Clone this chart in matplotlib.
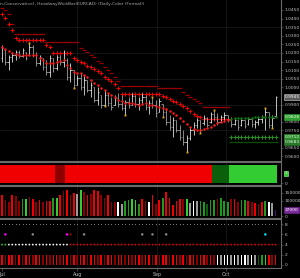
import matplotlib
matplotlib.use("Agg")
import matplotlib.pyplot as plt
import matplotlib.transforms as mtransforms

# ---------------- data ----------------
high = [1.0247, 1.0218, 1.0189, 1.0206, 1.0218, 1.0218, 1.0229, 1.0206, 1.0258, 1.0247,
        1.0206, 1.0189, 1.0171, 1.0160, 1.0189, 1.0171, 1.0189, 1.0189, 1.0218, 1.0171,
        1.0142, 1.0101, 1.0072, 1.0084, 1.0072, 1.0043, 1.0032, 1.0003, 1.0003, 0.9956,
        0.9985, 0.9968, 0.9945, 0.9956, 0.9968, 0.9956, 0.9927, 0.9945, 0.9968, 0.9956,
        0.9945, 0.9968, 0.9956, 0.9927, 0.9945, 0.9927, 0.9939, 0.9904, 0.9881, 0.9840,
        0.9828, 0.9811, 0.9782, 0.9753, 0.9724, 0.9764, 0.9799, 0.9822, 0.9811, 0.9840,
        0.9828, 0.9857, 0.9869, 0.9852, 0.9840, 0.9857, 0.9840, 0.9828, 0.9822, 0.9811,
        0.9822, 0.9811, 0.9828, 0.9822, 0.9811, 0.9828, 0.9840, 0.9881, 0.9857, 0.9840,
        0.9950]
low = [1.0148, 1.0130, 1.0101, 1.0148, 1.0160, 1.0171, 1.0177, 1.0160, 1.0189, 1.0177,
       1.0125, 1.0130, 1.0101, 1.0072, 1.0061, 1.0090, 1.0101, 1.0130, 1.0119, 1.0043,
       1.0032, 0.9997, 1.0014, 0.9985, 0.9956, 0.9974, 0.9945, 0.9915, 0.9898, 0.9881,
       0.9892, 0.9892, 0.9869, 0.9898, 0.9886, 0.9869, 0.9840, 0.9881, 0.9898, 0.9886,
       0.9869, 0.9904, 0.9869, 0.9846, 0.9881, 0.9828, 0.9857, 0.9828, 0.9782, 0.9753,
       0.9712, 0.9741, 0.9695, 0.9666, 0.9625, 0.9695, 0.9724, 0.9764, 0.9735, 0.9782,
       0.9770, 0.9793, 0.9811, 0.9782, 0.9799, 0.9811, 0.9799, 0.9770, 0.9782, 0.9753,
       0.9776, 0.9764, 0.9782, 0.9770, 0.9764, 0.9782, 0.9793, 0.9753, 0.9764, 0.9764,
       0.9828]
opens = [1.0171, 1.0218, 1.0148, 1.0177, 1.0189, 1.0206, 1.0183, 1.0206, 1.0189, 1.0235,
         1.0189, 1.0142, 1.0171, 1.0119, 1.0090, 1.0171, 1.0113, 1.0177, 1.0148, 1.0160,
         1.0061, 1.0101, 1.0014, 1.0055, 1.0003, 1.0043, 0.9985, 1.0003, 0.9927, 0.9956,
         0.9898, 0.9956, 0.9910, 0.9898, 0.9939, 0.9904, 0.9881, 0.9915, 0.9898, 0.9950,
         0.9904, 0.9927, 0.9945, 0.9886, 0.9910, 0.9898, 0.9857, 0.9904, 0.9857, 0.9799,
         0.9770, 0.9811, 0.9753, 0.9712, 0.9683, 0.9706, 0.9753, 0.9782, 0.9811, 0.9793,
         0.9822, 0.9799, 0.9846, 0.9828, 0.9799, 0.9828, 0.9840, 0.9811, 0.9788, 0.9811,
         0.9782, 0.9811, 0.9788, 0.9817, 0.9788, 0.9799, 0.9817, 0.9828, 0.9857, 0.9782,
         0.9834]
closes = [1.0229, 1.0148, 1.0177, 1.0189, 1.0206, 1.0183, 1.0218, 1.0171, 1.0235, 1.0189,
          1.0142, 1.0177, 1.0119, 1.0090, 1.0171, 1.0113, 1.0177, 1.0148, 1.0160, 1.0061,
          1.0101, 1.0014, 1.0055, 1.0003, 1.0043, 0.9985, 1.0014, 0.9927, 0.9974, 0.9898,
          0.9956, 0.9910, 0.9886, 0.9939, 0.9904, 0.9881, 0.9915, 0.9898, 0.9950, 0.9904,
          0.9927, 0.9945, 0.9886, 0.9910, 0.9898, 0.9852, 0.9921, 0.9857, 0.9799, 0.9770,
          0.9811, 0.9753, 0.9712, 0.9683, 0.9706, 0.9753, 0.9782, 0.9811, 0.9753, 0.9822,
          0.9782, 0.9846, 0.9828, 0.9799, 0.9828, 0.9840, 0.9811, 0.9788, 0.9811, 0.9770,
          0.9811, 0.9776, 0.9817, 0.9788, 0.9799, 0.9817, 0.9828, 0.9857, 0.9782, 0.9822,
          0.9945]
wick_idx = [8, 21, 30, 36, 44, 47, 54, 58, 62, 77, 79]
wick_val = [1.0258, 0.9997, 0.9892, 0.9840, 0.9945, 0.9828, 0.9625, 0.9735, 0.9869, 0.9881, 0.9764]

# moving-average dots: red while falling (bars 0-66), green afterwards (67-80)
ma_red = [1.0235, 1.0223, 1.0212, 1.0200, 1.0194, 1.0189, 1.0189, 1.0189, 1.0189, 1.0189,
          1.0189, 1.0171, 1.0160, 1.0142, 1.0142, 1.0142, 1.0148, 1.0154, 1.0160, 1.0130,
          1.0113, 1.0090, 1.0084, 1.0084, 1.0072, 1.0061, 1.0043, 1.0026, 1.0014, 0.9997,
          0.9985, 0.9968, 0.9956, 0.9945, 0.9927, 0.9921, 0.9910, 0.9910, 0.9910, 0.9904,
          0.9898, 0.9904, 0.9910, 0.9898, 0.9898, 0.9892, 0.9886, 0.9881, 0.9875, 0.9863,
          0.9852, 0.9840, 0.9822, 0.9805, 0.9788, 0.9770, 0.9759, 0.9753, 0.9753, 0.9759,
          0.9764, 0.9770, 0.9782, 0.9793, 0.9799, 0.9805, 0.9811]
ma_green = [0.9817, 0.9822, 0.9822, 0.9822, 0.9822, 0.9822, 0.9822, 0.9828, 0.9828, 0.9828,
            0.9828, 0.9828, 0.9828, 0.9828]
stop_red = [1.0427, 1.0404, 1.0369, 1.0334, 1.0287, 1.0276, 1.0276, 1.0276, 1.0276, 1.0276,
            1.0276, 1.0276, 1.0276, 1.0247, 1.0235, 1.0200, 1.0200, 1.0200, 1.0200, 1.0200,
            1.0200, 1.0171, 1.0160, 1.0148, 1.0142, 1.0125, 1.0119, 1.0107, 1.0096, 1.0084,
            1.0061, 1.0049, 1.0037, 1.0020, 0.9997, 0.9962, 0.9962, 0.9962, 0.9962, 0.9962,
            0.9962, 0.9962, 0.9962, 0.9962, 0.9962, 0.9962, 0.9962, 0.9950, 0.9945, 0.9933,
            0.9921, 0.9915, 0.9904, 0.9892, 0.9881, 0.9863, 0.9846, 0.9834, 0.9828, 0.9817,
            0.9817, 0.9817, 0.9817, 0.9817, 0.9817, 0.9817, 0.9817]
band_red = [1.0462, 1.0450, 1.0427, 1.0369, 1.0311, 1.0311, 1.0311, 1.0311, 1.0311, 1.0311,
            1.0311, 1.0311, 1.0311, 1.0264, 1.0264, 1.0264, 1.0264, 1.0264, 1.0264, 1.0264,
            1.0264, 1.0264, 1.0264, 1.0229, 1.0218, 1.0206, 1.0189, 1.0177, 1.0154, 1.0142,
            1.0119, 1.0101, 1.0084, 1.0061, 1.0037, 1.0008, 1.0008, 1.0008, 1.0008, 1.0008,
            1.0008, 1.0008, 1.0008, 1.0008, 1.0008, 1.0008, 0.9997, 0.9997, 0.9997, 0.9997,
            0.9997, 0.9997, 0.9997, 0.9974, 0.9956, 0.9945, 0.9933, 0.9921, 0.9910, 0.9886,
            0.9886, 0.9886, 0.9886, 0.9886, 0.9886, 0.9886, 0.9886]
stop_green = [0.9712] * 14
band_green = [0.9683] * 14

# state strip (panel 2): R red, D dark red, K dark green, B bright green
state = "R" * 16 + "D" * 3 + "R" * 43 + "K" * 5 + "B" * 14

# volume histogram (panel 3)
volume = [135000, 102000, 91000, 135000, 128000, 98000, 109000, 113000, 124000, 113000,
          91000, 106000, 91000, 98000, 98000, 119000, 119000, 135000, 161000, 168000,
          135000, 150000, 145000, 168000, 157000, 135000, 145000, 168000, 163000, 135000,
          119000, 135000, 91000, 91000, 91000, 76000, 98000, 106000, 113000, 102000,
          76000, 109000, 96000, 91000, 135000, 80000, 102000, 119000, 157000, 119000,
          70000, 98000, 113000, 113000, 109000, 85000, 96000, 96000, 98000, 91000,
          76000, 102000, 102000, 109000, 119000, 96000, 91000, 109000, 113000, 91000,
          102000, 102000, 98000, 91000, 85000, 80000, 91000, 96000, 91000, 85000,
          37000]
vol_col = ("RDDRDDGBDR" "DRDRRGBRDR" "DRYBDRDRRD" "DRDDWYGGBB" "GRD"
           "WRDRGRRRRR" "DBYWYGGKGG" "DGGGDRDGGR" "DRDRG" "WYP")

# panel 4
sig_idx = [1, 9, 19, 20, 24, 41, 44, 48, 77]
sig_col = ["#ff00ff", "#8a8a8a", "#ff00ff", "#8b0000", "#8a8a8a", "#8a8a8a", "#8a8a8a", "#8a8a8a", "#00e5ee"]
trend_col = "GG" + "W" * 18 + "R" * 61
bar4_col = ("RDRRDRDRRD" "RRDRDRRDRR" "DRDRRDRRDR" "DRRDRRDRDR" "RDRRDRDRRD" "RRDRDRRDRR"
            "DRD" "WYWWYWYWWY" "WY" "KGB" "RDR")

month_pos = [0, 22, 45.3, 65.5]
month_lab = ["Jul", "Aug", "Sep", "Oct"]

price_ticks = [1.0450, 1.0400, 1.0350, 1.0300, 1.0250, 1.0200, 1.0150, 1.0100, 1.0050,
               1.0000, 0.9900, 0.9800, 0.9750, 0.9650, 0.9600]
grid_prices = [1.0350, 1.0200, 1.0050, 0.9900, 0.9750]

title = "n,Conservative), HeadwayWickBar(EURCAD) (Daily,Color (Formal))"

# ---------------- layout ----------------
W, H = 300, 278
fig = plt.figure(figsize=(W / 100, H / 100), dpi=100, facecolor="black")
PR = 281


def rect(x0, y0, x1, y1):
    return [x0 / W, 1 - y1 / H, (x1 - x0) / W, (y1 - y0) / H]


ax1 = fig.add_axes(rect(0, 0, PR, 161))
ax2 = fig.add_axes(rect(0, 162, PR, 185))
ax3 = fig.add_axes(rect(0, 186, PR, 218))
ax4 = fig.add_axes(rect(0, 219, PR, 268))

cmap = {"R": "#f00000", "D": "#8e0000", "G": "#1f9a1f", "B": "#33cc33", "K": "#0b5f0b",
        "W": "#ffffff", "Y": "#9a9a9a", "P": "#4a1070"}
n = len(high)
x = list(range(n))
XL = (-0.585, 81.58)
TXT = "#c4c4c4"
SP = "#6a6a6a"

for ax in (ax1, ax2, ax3, ax4):
    ax.set_facecolor("black")
    ax.set_xlim(*XL)
    ax.spines["left"].set_visible(False)
    for s in ("right", "top", "bottom"):
        ax.spines[s].set_color(SP)
        ax.spines[s].set_linewidth(0.8)
    ax.yaxis.tick_right()
    ax.tick_params(axis="y", direction="out", length=1.5, width=0.4, colors=SP,
                   labelcolor=TXT, labelsize=3.2, pad=1)
    ax.tick_params(axis="x", length=0, labelbottom=False)
    for mp in month_pos[1:]:
        ax.axvline(mp, color="#1c1c1c", lw=0.5, zorder=0)
ax1.spines["top"].set_visible(False)

# main price panel
ax1.set_ylim(0.95721, 1.05081)
for gp in grid_prices:
    ax1.axhline(gp, color="#1c1c1c", lw=0.5, zorder=0)
bcol = ["#f4f4f4" if c >= o else "#b0b0b0" for o, c in zip(opens, closes)]
ax1.vlines(x, low, high, colors=bcol, lw=0.55, zorder=3)
ax1.hlines(opens, [i - 0.42 for i in x], x, colors=bcol, lw=0.5, zorder=3)
ax1.hlines(closes, x, [i + 0.42 for i in x], colors=bcol, lw=0.5, zorder=3)
ax1.plot(wick_idx, wick_val, "s", ms=1.4, mew=0, color="#d9a21b", zorder=4)
nr = len(ma_red)
ax1.plot(x[:nr], band_red, "_", ms=2.6, mew=0.9, color="#9a0000", zorder=2)
ax1.plot(x[:nr], stop_red, "+", ms=2.9, mew=0.75, color="#ee0000", zorder=2)
ax1.plot(x[:nr], ma_red, "o", ms=1.8, mew=0, color="#ff1a1a", zorder=5)
ax1.plot(x[nr:], band_green, "_", ms=2.6, mew=0.9, color="#0d4f0d", zorder=2)
ax1.plot(x[nr:], stop_green, "+", ms=2.9, mew=0.75, color="#1f8f1f", zorder=2)
ax1.plot(x[nr:], ma_green, "o", ms=1.8, mew=0, color="#0a7a0a", zorder=5)
ax1.set_yticks(price_ticks)
ax1.set_yticklabels([f"{p:.4f}" for p in price_ticks])

bt = mtransforms.blended_transform_factory(ax1.transAxes, ax1.transData)
for val, fc, ec, tc in [(closes[-1], "#5a5a5a", "#d0d0d0", "#ffffff"),
                        (ma_green[-1], "#2f9f2f", "#2f9f2f", "#e8ffe8"),
                        (stop_green[-1], "#2f8f2f", "#2f8f2f", "#e8ffe8"),
                        (band_green[-1], "#2a7a2a", "#2a7a2a", "#e8ffe8")]:
    ax1.text(1.012, val, f"{val:.4f}", transform=bt, fontsize=3.2, color=tc, va="center",
             ha="left", bbox=dict(boxstyle="square,pad=0.15", fc=fc, ec=ec, lw=0.4), clip_on=False)

fig.text(0.0, 1 - 4 / H, title, fontsize=3.2, color="#a8a8a8", va="center", ha="left")

# panel 2: state strip
ax2.set_ylim(-0.111, 1.167)
ax2.bar(x, [1] * n, width=1.0, bottom=0, color=[cmap[c] for c in state], linewidth=0)
ax2.set_yticks([0])
ax2.set_yticklabels(["0"])
ax2.text(1.012, 0.5, "1", transform=ax2.transAxes, fontsize=3.0, color="#e8ffe8", va="center",
         ha="left", bbox=dict(boxstyle="square,pad=0.2", fc="#33cc33", ec="#99ff99", lw=0.4), clip_on=False)

# panel 3: volume
ax3.set_ylim(-13000, 195600)
ax3.bar(x, volume, width=0.5, color=[cmap[c] for c in vol_col], linewidth=0)
ax3.set_yticks([0, 100000, 150000])
ax3.set_yticklabels(["0", "100000", "150000"])
bt3 = mtransforms.blended_transform_factory(ax3.transAxes, ax3.transData)
ax3.text(1.012, volume[-1] + 3000, f"{volume[-1]}", transform=bt3, fontsize=3.2, color="#ffffff",
         va="center", ha="left", bbox=dict(boxstyle="square,pad=0.15", fc="#7a2a9a", ec="#7a2a9a", lw=0.4),
         clip_on=False)

# panel 4: signals
ax4.set_ylim(-0.59, 9.02)
ax4.plot(x, [8] * n, "o", ms=0.8, mew=0, color="#8a8a8a")
ax4.scatter(sig_idx, [6] * len(sig_idx), s=3.2, c=sig_col, linewidths=0, zorder=3)
tc_map = {"G": "#2fbf2f", "W": "#f0f0f0", "R": "#e00000"}
ax4.scatter(x, [4] * n, s=1.8, c=[tc_map[c] for c in trend_col], linewidths=0)
ax4.bar(x, [2] * n, width=0.45, color=[cmap[c] for c in bar4_col], linewidth=0)
ax4.set_yticks([0, 2, 4, 6, 8])
ax4.set_yticklabels(["0", "2", "4", "6", "8"])
ax4.set_xticks(month_pos)
ax4.set_xticklabels(month_lab)
ax4.tick_params(axis="x", direction="out", length=2, width=0.4, colors=SP, labelcolor=TXT,
                labelsize=3.4, pad=1, labelbottom=True)

fig.savefig("out.png", dpi=100, facecolor="black")
